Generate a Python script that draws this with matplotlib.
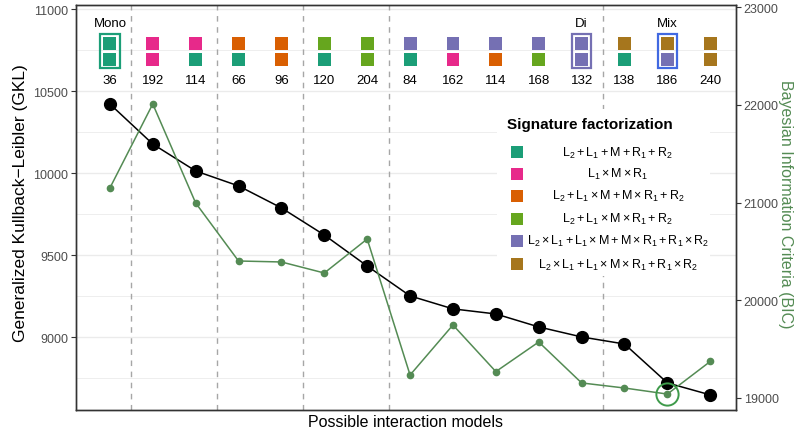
import matplotlib
matplotlib.use('Agg')
import matplotlib.pyplot as plt
from matplotlib.patches import Rectangle
import matplotlib.transforms as mtransforms

plt.rcParams['font.family'] = ['Liberation Sans', 'DejaVu Sans']
plt.rcParams['mathtext.fontset'] = 'custom'
plt.rcParams['mathtext.rm'] = 'Liberation Sans'
plt.rcParams['mathtext.it'] = 'Liberation Sans:italic'
plt.rcParams['mathtext.bf'] = 'Liberation Sans:bold'
plt.rcParams['mathtext.default'] = 'regular'

# ---------------- data ----------------
model_sizes = [36, 192, 114, 66, 96, 120, 204, 84, 162, 114, 168, 132, 138, 186, 240]
gkl = [10422, 10178, 10014, 9923, 9789, 9624, 9435, 9253, 9174, 9143, 9064, 9003, 8960, 8723, 8650]
bic = [21149, 22009, 20996, 20402, 20392, 20279, 20627, 19235, 19747, 19270, 19573, 19154, 19102, 19040, 19374]

factor_labels = [
    r'$L_2+L_1+M+R_1+R_2$',
    r'$L_1\times M\times R_1$',
    r'$L_2+L_1\times M+M\times R_1+R_2$',
    r'$L_2+L_1\times M\times R_1+R_2$',
    r'$L_2\times L_1+L_1\times M+M\times R_1+R_1\times R_2$',
    r'$L_2\times L_1+L_1\times M\times R_1+R_1\times R_2$',
]
factor_colors = ['#1B9E77', '#E7298A', '#D95F02', '#66A61E', '#7570B3', '#A6761D']

top_factor = [0, 1, 1, 2, 2, 3, 3, 4, 4, 4, 4, 4, 5, 5, 5]
bottom_factor = [0, 1, 0, 0, 2, 0, 3, 0, 1, 2, 3, 4, 0, 4, 5]

highlight_idx = [0, 11, 13]
highlight_names = ['Mono', 'Di', 'Mix']
highlight_colors = ['#1B9E77', '#7570B3', '#4169E1']

group_last_idx = [0, 2, 4, 6, 11]   # group boundaries after these models
best_bic_idx = 13

legend_title = 'Signature factorization'
xlabel = 'Possible interaction models'
ylabel_left = 'Generalized Kullback\u2212Leibler (GKL)'
ylabel_right = 'Bayesian Information Criteria (BIC)'
left_ticks = [9000, 9500, 10000, 10500, 11000]
left_minor = [8750, 9250, 9750, 10250, 10750]
right_ticks = [19000, 20000, 21000, 22000, 23000]

# ---------------- figure ----------------
fig = plt.figure(figsize=(7.94, 4.35), dpi=100)
ax = fig.add_axes([76/794, 1-411/435, 660/794, 405/435])
ax2 = ax.twinx()

n = len(model_sizes)
xs = list(range(n))

ax.set_xlim(-0.79, 14.6)
ax.set_ylim(8558, 11025)
ax2.set_ylim(18877, 23022)

# grid
for v in left_minor:
    ax.axhline(v, color='#EBEBEB', lw=0.6, zorder=0)
for v in left_ticks:
    ax.axhline(v, color='#EBEBEB', lw=1.0, zorder=0)

# group separators
for i in group_last_idx:
    ax.axvline(i + 0.5, color='#A6A6A6', lw=1.0, ls=(0, (4, 4)), zorder=1)

# lines
ax.plot(xs, gkl, color='black', lw=1.1, marker='o', ms=8.5, zorder=3)
ax2.plot(xs, bic, color='#548B54', lw=1.1, marker='o', ms=4.5, zorder=3)
ax2.plot([xs[best_bic_idx]], [bic[best_bic_idx]], marker='o', ms=16, mfc='none',
         mec='#3E9A4A', mew=1.4, ls='none', zorder=4)

# signature squares
trans = mtransforms.blended_transform_factory(ax.transData, ax.transAxes)
sq_w = 0.30
sq_h = 13/405
y_top = 1 - (44.2-6)/405
y_bot = 1 - (60-6)/405
for i in range(n):
    for yc, f in ((y_top, top_factor[i]), (y_bot, bottom_factor[i])):
        ax.add_patch(Rectangle((i - sq_w/2, yc - sq_h/2), sq_w, sq_h, transform=trans,
                               facecolor=factor_colors[f], edgecolor='none', zorder=5,
                               clip_on=False))
    ax.text(i, 1 - (81-6)/405, str(model_sizes[i]), transform=trans, ha='center',
            va='center', fontsize=9.5, color='black', zorder=6)

box_w = 0.46
box_y0 = 1 - (69-6)/405
box_y1 = 1 - (34.5-6)/405
for i, name, col in zip(highlight_idx, highlight_names, highlight_colors):
    ax.add_patch(Rectangle((i - box_w/2, box_y0), box_w, box_y1 - box_y0, transform=trans,
                           facecolor='none', edgecolor=col, lw=1.6, zorder=6))
    ax.text(i, 1 - (23.7-6)/405, name, transform=trans, ha='center', va='center',
            fontsize=9.5, color='black', zorder=6)

# legend (manual)
ax.add_patch(Rectangle((0.638, 0.331), 0.323, 0.412, transform=ax.transAxes,
                       facecolor='white', edgecolor='none', zorder=7))
ax.text(0.653, 0.706, legend_title, transform=ax.transAxes, ha='left', va='center',
        fontsize=11, fontweight='bold', zorder=8)
row_y = [0.636, 0.583, 0.529, 0.472, 0.418, 0.360]
lw_ = 12/660
lh_ = 12/405
for y, lab, col in zip(row_y, factor_labels, factor_colors):
    ax.add_patch(Rectangle((0.668 - lw_/2, y - lh_/2), lw_, lh_, transform=ax.transAxes,
                           facecolor=col, edgecolor='none', zorder=8))
    ax.text(0.821, y, lab, transform=ax.transAxes, ha='center', va='center',
            fontsize=9, zorder=8)

# axes styling
ax.set_xticks([])
ax.set_yticks(left_ticks)
ax.set_yticks(left_minor, minor=True)
ax.tick_params(axis='y', which='minor', length=0)
ax.tick_params(axis='y', which='major', length=3.5, width=0.8, color='#333333',
               labelsize=9, labelcolor='#4D4D4D', pad=2)
ax2.set_yticks(right_ticks)
ax2.tick_params(axis='y', length=3.5, width=0.8, color='#333333', labelsize=9,
                labelcolor='#4D4D4D', pad=2)
for a in (ax, ax2):
    for s in a.spines.values():
        s.set_color('#333333')
        s.set_linewidth(1.0)

ax.set_xlabel(xlabel, fontsize=11.5, labelpad=3)
ax.set_ylabel(ylabel_left, fontsize=12.5, va='center', ha='center')
ax2.set_ylabel(ylabel_right, fontsize=11.5, color='#548B54', rotation=270,
               va='center', ha='center')
ax.yaxis.set_label_coords((20.5 - 76) / 660, 1 - (203 - 6) / 405)
ax2.yaxis.set_label_coords((786 - 76) / 660, 1 - (204 - 6) / 405)

fig.savefig('out.png', dpi=100)
